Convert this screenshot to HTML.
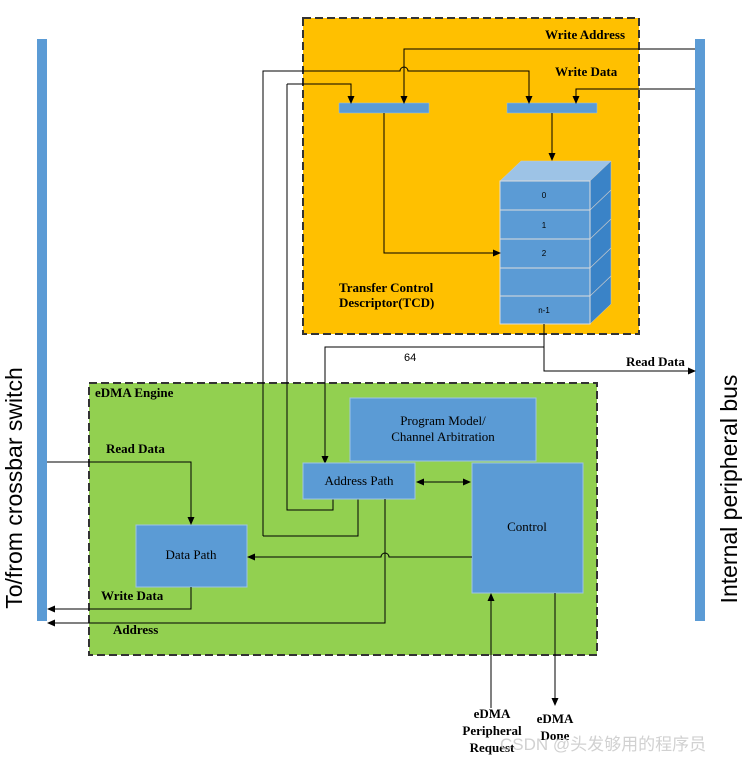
<!DOCTYPE html>
<html><head><meta charset="utf-8"><style>
html,body{margin:0;padding:0;background:#fff;}
svg{display:block;}
.b{font-family:"Liberation Serif",serif;font-weight:bold;font-size:13px;fill:#000;}
.s{font-family:"Liberation Serif",serif;font-size:13px;fill:#000;}
.t{font-family:"Liberation Sans",sans-serif;font-size:8px;fill:#000;}
</style></head><body>
<svg width="747" height="762" viewBox="0 0 747 762" xmlns="http://www.w3.org/2000/svg">
<defs>
<marker id="a" markerWidth="8" markerHeight="8" refX="7" refY="4" orient="auto" markerUnits="userSpaceOnUse">
<path d="M0,0.5 L8,4 L0,7.5 z" fill="#000"/></marker>
<marker id="as" markerWidth="8" markerHeight="8" refX="1" refY="4" orient="auto" markerUnits="userSpaceOnUse">
<path d="M8,0.5 L0,4 L8,7.5 z" fill="#000"/></marker>
</defs>
<rect x="37" y="39" width="10" height="582" fill="#5B9BD5"/>
<rect x="695" y="39" width="10" height="582" fill="#5B9BD5"/>
<text transform="translate(22,488) rotate(-90)" text-anchor="middle" font-family="Liberation Sans, sans-serif" font-size="23">To/from crossbar switch</text>
<text transform="translate(737,489) rotate(-90)" text-anchor="middle" font-family="Liberation Sans, sans-serif" font-size="23">Internal peripheral bus</text>
<rect x="303" y="18" width="336" height="316" fill="#FFC000" stroke="#333" stroke-width="2" stroke-dasharray="8,4"/>
<text class="b" x="545" y="39">Write Address</text>
<text class="b" x="555" y="76">Write Data</text>
<text class="b" x="339" y="292">Transfer Control</text>
<text class="b" x="339" y="307">Descriptor(TCD)</text>
<rect x="89" y="383" width="508" height="272" fill="#92D050" stroke="#333" stroke-width="2" stroke-dasharray="8,4"/>
<text class="b" x="95" y="397" font-size="12">eDMA Engine</text>
<text class="b" x="106" y="453">Read Data</text>
<text class="b" x="101" y="600">Write Data</text>
<text class="b" x="113" y="634">Address</text>
<rect x="339" y="103" width="90" height="10" fill="#5B9BD5" stroke="#9DC3E6" stroke-width="0.5"/>
<rect x="507" y="103" width="90" height="10" fill="#5B9BD5" stroke="#9DC3E6" stroke-width="0.5"/>
<polygon points="500,181 521,161 611,161 590,181" fill="#9DC3E6" stroke="#ccc" stroke-width="0.5"/>
<polygon points="590,181 611,161 611,304 590,324" fill="#3A83C7" stroke="#ccc" stroke-width="0.5"/>
<g stroke="#ccc" stroke-width="0.7"><line x1="590" y1="210" x2="611" y2="190"/><line x1="590" y1="239" x2="611" y2="219"/><line x1="590" y1="268" x2="611" y2="248"/><line x1="590" y1="296" x2="611" y2="276"/></g>
<g fill="#5B9BD5" stroke="#ddd" stroke-width="1">
<rect x="500" y="181" width="90" height="29"/><rect x="500" y="210" width="90" height="29"/><rect x="500" y="239" width="90" height="29"/><rect x="500" y="268" width="90" height="28"/><rect x="500" y="296" width="90" height="28"/>
</g>
<text class="t" x="544" y="198" text-anchor="middle">0</text>
<text class="t" x="544" y="228" text-anchor="middle">1</text>
<text class="t" x="544" y="256" text-anchor="middle">2</text>
<text class="t" x="544" y="313" text-anchor="middle">n-1</text>
<g fill="none" stroke="#000" stroke-width="1">
<path d="M695,49 H404 V103" marker-end="url(#a)"/>
<path d="M695,89 H576 V103" marker-end="url(#a)"/>
<path d="M263,536 V71 H400 a4,4 0 0 1 8,0 H529 V103" marker-end="url(#a)"/>
<path d="M263,536 H358 V499"/>
<path d="M287,84 H351 V103" marker-end="url(#a)"/>
<path d="M287,84 V510 H333 V499"/>
<path d="M384,113 V253 H500" marker-end="url(#a)"/>
<path d="M552,113 V160" marker-end="url(#a)"/>
<path d="M544,324 V347 H325 V463" marker-end="url(#a)"/>
<path d="M544,347 V371 H695" marker-end="url(#a)"/>
</g>
<text font-family="Liberation Sans, sans-serif" font-size="11" x="404" y="361">64</text>
<text class="b" x="626" y="366">Read Data</text>
<g fill="#5B9BD5" stroke="#9DC3E6" stroke-width="1">
<rect x="350" y="398" width="186" height="63"/>
<rect x="303" y="463" width="112" height="36"/>
<rect x="472" y="463" width="111" height="130"/>
<rect x="136" y="525" width="111" height="62"/>
</g>
<text class="s" x="443" y="425" text-anchor="middle">Program Model/</text>
<text class="s" x="443" y="441" text-anchor="middle">Channel Arbitration</text>
<text class="s" x="359" y="485" text-anchor="middle">Address Path</text>
<text class="s" x="527" y="531" text-anchor="middle">Control</text>
<text class="s" x="191" y="559" text-anchor="middle">Data Path</text>
<g fill="none" stroke="#000" stroke-width="1">
<path d="M417,482 H470" marker-start="url(#as)" marker-end="url(#a)"/>
<path d="M472,557 H389 a4,4 0 0 0 -8,0 H248" marker-end="url(#a)"/>
<path d="M385,499 V623 H48" marker-end="url(#a)"/>
<path d="M191,587 V609 H48" marker-end="url(#a)"/>
<path d="M47,462 H191 V524" marker-end="url(#a)"/>
<path d="M491,708 V594" marker-end="url(#a)"/>
<path d="M555,593 V705" marker-end="url(#a)"/>
</g>
<text class="b" x="492" y="718" text-anchor="middle">eDMA</text>
<text class="b" x="492" y="735" text-anchor="middle">Peripheral</text>
<text class="b" x="492" y="752" text-anchor="middle">Request</text>
<text class="b" x="555" y="723" text-anchor="middle">eDMA</text>
<text class="b" x="555" y="740" text-anchor="middle">Done</text>
<text x="500" y="750" font-family="Liberation Sans, 'Noto Sans CJK SC', sans-serif" font-size="17" fill="#ccc" fill-opacity="0.9">CSDN @头发够用的程序员</text>
</svg>
</body></html>
